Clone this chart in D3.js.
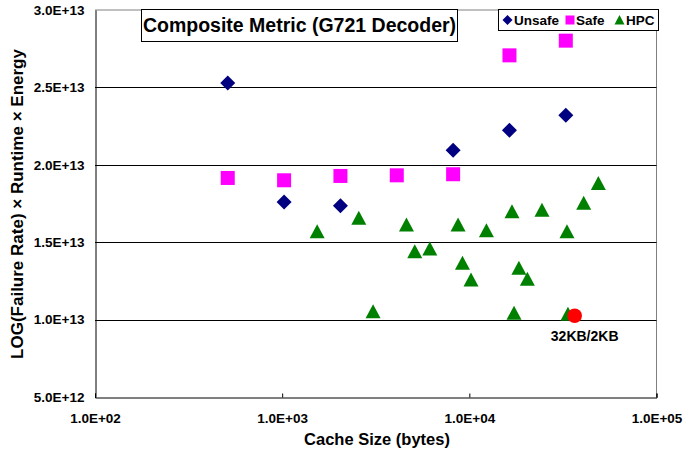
<!DOCTYPE html>
<html>
<head>
<meta charset="utf-8">
<script src="https://cdn.jsdelivr.net/npm/d3@7"></script>
<style>
  html, body { margin: 0; padding: 0; background: #fff; }
  svg { display: block; font-family: "Liberation Sans", Arial, sans-serif; }
</style>
</head>
<body>
<svg id="chart" width="685" height="451"></svg>
<script>
// ---- data ----
const unsafeX = [512, 1024, 2048, 8192, 16384, 32768];
const unsafeY = [2.528e13, 1.76e13, 1.736e13, 2.094e13, 2.223e13, 2.32e13];

const safeX = [512, 1024, 2048, 4096, 8192, 16384, 32768];
const safeY = [1.915e13, 1.90e13, 1.928e13, 1.932e13, 1.939e13, 2.707e13, 2.802e13];

const hpcX = [1538, 2567, 4614, 8705, 12340, 16900, 24440, 33240, 40830, 48900,
              5110, 6150, 9190, 10210, 18400, 20420, 3060, 17330, 33640];
const hpcY = [1.568e13, 1.654e13, 1.611e13, 1.611e13, 1.574e13, 1.697e13, 1.706e13, 1.568e13, 1.751e13, 1.880e13,
              1.439e13, 1.456e13, 1.364e13, 1.256e13, 1.331e13, 1.260e13, 1.051e13, 1.041e13, 1.034e13];

const bestX = [36540];
const bestY = [1.025e13];
const bestLabel = "32KB/2KB";

const xTicks = [1e2, 1e3, 1e4, 1e5];
const xTickLabels = ["1.0E+02", "1.0E+03", "1.0E+04", "1.0E+05"];
const yTicks = [5e12, 1e13, 1.5e13, 2e13, 2.5e13, 3e13];
const yTickLabels = ["5.0E+12", "1.0E+13", "1.5E+13", "2.0E+13", "2.5E+13", "3.0E+13"];

const titleText = "Composite Metric (G721 Decoder)";
const xTitle = "Cache Size (bytes)";
const yTitle = "LOG(Failure Rate) \u00D7 Runtime \u00D7 Energy";
const seriesNames = ["Unsafe", "Safe", "HPC"];

// ---- layout ----
const svg = d3.select("#chart");
const L = 95, R = 656.5, T = 10, B = 397;

const x = d3.scaleLog().domain([1e2, 1e5]).range([L, R]);
const y = d3.scaleLinear().domain([5e12, 3e13]).range([B, T]);

// plot frame (top/right grey)
svg.append("line").attr("x1", L).attr("x2", R).attr("y1", T).attr("y2", T)
  .attr("stroke", "#808080").attr("stroke-width", 1);
svg.append("line").attr("x1", R).attr("x2", R).attr("y1", T).attr("y2", B)
  .attr("stroke", "#808080").attr("stroke-width", 1);

// gridlines
svg.append("g").selectAll("line").data(yTicks.slice(1, -1)).join("line")
  .attr("x1", L).attr("x2", R)
  .attr("y1", d => Math.round(y(d)) + 0.5).attr("y2", d => Math.round(y(d)) + 0.5)
  .attr("stroke", "#000").attr("stroke-width", 1);

// x axis
const xAxis = d3.axisBottom(x).tickValues(xTicks).tickSize(-4).tickFormat((d, i) => xTickLabels[i]);
const gx = svg.append("g").attr("transform", `translate(0,${B + 0.5})`).call(xAxis);
gx.select(".domain").attr("stroke", "#000");
gx.selectAll(".tick line").attr("stroke", "#000");
gx.selectAll(".tick text").attr("font-size", 13.5).attr("font-weight", "bold")
  .attr("fill", "#000").attr("dy", null).attr("y", 25);

// y axis
const yAxis = d3.axisLeft(y).tickValues(yTicks).tickSize(0).tickPadding(11).tickFormat((d, i) => yTickLabels[i]);
const gy = svg.append("g").attr("transform", `translate(${L + 0.5},0)`).call(yAxis);
gy.select(".domain").attr("stroke", "#000");
gy.selectAll(".tick text").attr("font-size", 13.5).attr("font-weight", "bold").attr("fill", "#000");

// axis titles
svg.append("text").attr("x", 377).attr("y", 445).attr("text-anchor", "middle")
  .attr("font-size", 16.5).attr("font-weight", "bold").text(xTitle);
svg.append("text").attr("transform", `translate(23,204) rotate(-90)`).attr("text-anchor", "middle")
  .attr("font-size", 17).attr("font-weight", "bold").text(yTitle);

// markers
const diamondPath = "M0,-7.5L7.5,0L0,7.5L-7.5,0Z";

svg.append("g").selectAll("path").data(unsafeX.map((v, i) => [v, unsafeY[i]])).join("path")
  .attr("transform", d => `translate(${x(d[0])},${y(d[1])})`)
  .attr("d", diamondPath).attr("fill", "#000080");

svg.append("g").selectAll("rect").data(safeX.map((v, i) => [v, safeY[i]])).join("rect")
  .attr("x", d => x(d[0]) - 7).attr("y", d => y(d[1]) - 7)
  .attr("width", 14).attr("height", 14).attr("fill", "#FF00FF");

const triPath = "M0,-7.5L7.5,6.5L-7.5,6.5Z";
svg.append("g").selectAll("path").data(hpcX.map((v, i) => [v, hpcY[i]])).join("path")
  .attr("transform", d => `translate(${x(d[0])},${y(d[1])})`)
  .attr("d", triPath).attr("fill", "#008000");

svg.append("g").selectAll("circle").data(bestX.map((v, i) => [v, bestY[i]])).join("circle")
  .attr("cx", d => x(d[0])).attr("cy", d => y(d[1])).attr("r", 7.3).attr("fill", "#FF0000");
svg.append("text").attr("x", x(bestX[0]) + 10).attr("y", y(bestY[0]) + 25)
  .attr("text-anchor", "middle").attr("font-size", 14).attr("font-weight", "bold").text(bestLabel);

// title box
svg.append("rect").attr("x", 141.5).attr("y", 9.5).attr("width", 316).attr("height", 32)
  .attr("fill", "#fff").attr("stroke", "#000").attr("stroke-width", 1);
svg.append("text").attr("x", 299.5).attr("y", 32).attr("text-anchor", "middle")
  .attr("font-size", 19.5).attr("font-weight", "bold").text(titleText);

// legend
const lg = svg.append("g");
lg.append("rect").attr("x", 498.5).attr("y", 9.5).attr("width", 160).attr("height", 21)
  .attr("fill", "#fff").attr("stroke", "#000").attr("stroke-width", 1);
const ly = 20;
lg.append("path").attr("transform", `translate(507.5,${ly})`).attr("d", "M0,-5L5,0L0,5L-5,0Z").attr("fill", "#000080");
lg.append("rect").attr("x", 565.5).attr("y", ly - 4.5).attr("width", 9).attr("height", 9).attr("fill", "#FF00FF");
lg.append("path").attr("transform", `translate(619.5,${ly})`).attr("d", "M0,-5L5,4.5L-5,4.5Z").attr("fill", "#008000");
const lx = [514, 576, 626];
seriesNames.forEach((n, i) => {
  lg.append("text").attr("x", lx[i]).attr("y", ly + 4.5).attr("font-size", 13.5)
    .attr("font-weight", "bold").text(n);
});
</script>
</body>
</html>
